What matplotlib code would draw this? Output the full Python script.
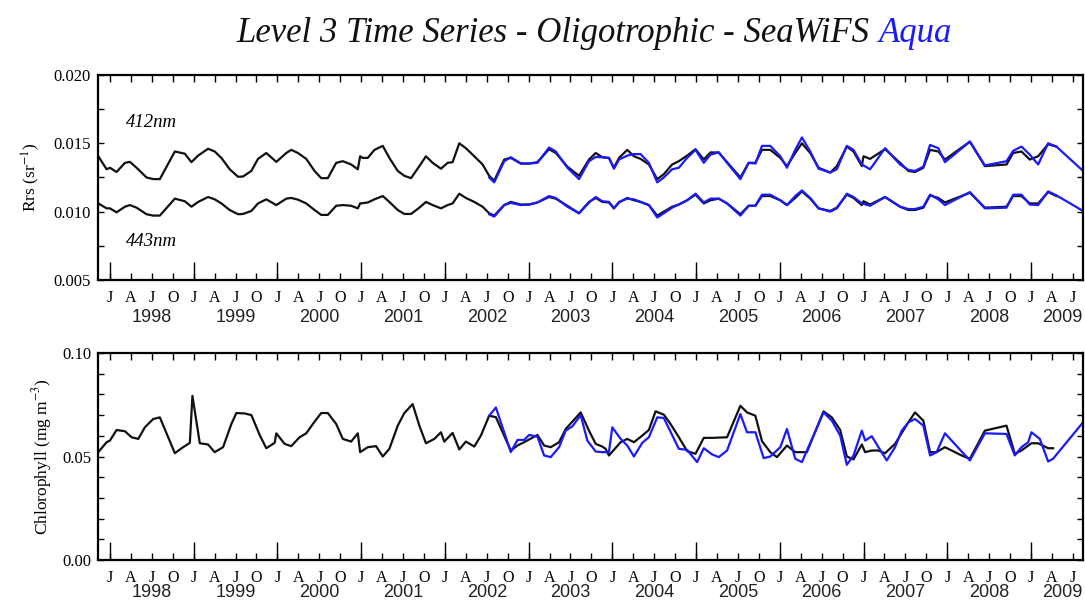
import numpy as np
import matplotlib
matplotlib.use("Agg")
import matplotlib.pyplot as plt
from matplotlib.ticker import FixedLocator, FixedFormatter, MultipleLocator, NullFormatter, FormatStrFormatter

plt.rcParams['font.family'] = ['Liberation Serif', 'DejaVu Serif']
plt.rcParams['mathtext.fontset'] = 'stix'

# ---- data (decimal years) ----
sw_t = [1997.861, 1997.960, 1998.000, 1998.079, 1998.179, 1998.238, 1998.318, 1998.437, 1998.516, 1998.596,
        1998.775, 1998.894, 1998.973, 1999.053, 1999.172, 1999.251, 1999.331, 1999.430, 1999.530, 1999.589,
        1999.689, 1999.768, 1999.867, 1999.987, 2000.106, 2000.165, 2000.245, 2000.344, 2000.443, 2000.523,
        2000.602, 2000.702, 2000.781, 2000.880, 2000.960, 2000.988, 2001.019, 2001.079, 2001.159, 2001.258,
        2001.337, 2001.437, 2001.516, 2001.596, 2001.695, 2001.774, 2001.854, 2001.953, 2002.033, 2002.092,
        2002.172, 2002.251, 2002.351, 2002.450, 2002.529, 2002.589, 2002.708, 2002.787, 2002.907, 2003.006,
        2003.105, 2003.244, 2003.324, 2003.463, 2003.602, 2003.721, 2003.801, 2003.880, 2003.959, 2004.019,
        2004.079, 2004.178, 2004.258, 2004.337, 2004.436, 2004.536, 2004.615, 2004.714, 2004.794, 2004.893,
        2004.993, 2005.092, 2005.171, 2005.271, 2005.370, 2005.529, 2005.628, 2005.708, 2005.787, 2005.886,
        2006.006, 2006.085, 2006.184, 2006.264, 2006.363, 2006.463, 2006.602, 2006.681, 2006.800, 2006.880,
        2006.979, 2006.999, 2007.078, 2007.257, 2007.436, 2007.535, 2007.615, 2007.714, 2007.794, 2007.893,
        2007.972, 2008.270, 2008.449, 2008.707, 2008.787, 2008.886, 2008.985, 2009.085, 2009.204, 2009.303]
sw_412 = [0.01405, 0.01310, 0.01321, 0.01290, 0.01357, 0.01364, 0.01321, 0.01250, 0.01238, 0.01238,
          0.01440, 0.01424, 0.01362, 0.01410, 0.01460, 0.01440, 0.01393, 0.01310, 0.01255, 0.01257,
          0.01298, 0.01386, 0.01429, 0.01364, 0.01429, 0.01452, 0.01429, 0.01386, 0.01298, 0.01245,
          0.01245, 0.01357, 0.01369, 0.01345, 0.01310, 0.01405, 0.01393, 0.01393, 0.01452, 0.01481,
          0.01393, 0.01298, 0.01262, 0.01245, 0.01333, 0.01405, 0.01357, 0.01314, 0.01357, 0.01362,
          0.01500, 0.01464, 0.01405, 0.01345, 0.01262, 0.01226, 0.01381, 0.01393, 0.01352, 0.01352,
          0.01362, 0.01457, 0.01429, 0.01329, 0.01262, 0.01381, 0.01429, 0.01398, 0.01393, 0.01321,
          0.01393, 0.01452, 0.01405, 0.01386, 0.01345, 0.01238, 0.01274, 0.01345, 0.01369, 0.01410,
          0.01457, 0.01381, 0.01433, 0.01433, 0.01362, 0.01250, 0.01357, 0.01357, 0.01452, 0.01452,
          0.01393, 0.01333, 0.01429, 0.01500, 0.01429, 0.01321, 0.01286, 0.01333, 0.01476, 0.01440,
          0.01333, 0.01405, 0.01386, 0.01457, 0.01357, 0.01298, 0.01290, 0.01321, 0.01452, 0.01440,
          0.01381, 0.01512, 0.01333, 0.01345, 0.01429, 0.01440, 0.01381, 0.01405, 0.01493, 0.01476]
sw_443 = [0.01060, 0.01024, 0.01024, 0.00995, 0.01036, 0.01048, 0.01029, 0.00981, 0.00971, 0.00971,
          0.01095, 0.01076, 0.01036, 0.01071, 0.01107, 0.01090, 0.01060, 0.01012, 0.00981, 0.00983,
          0.01005, 0.01060, 0.01090, 0.01048, 0.01095, 0.01100, 0.01088, 0.01060, 0.01012, 0.00976,
          0.00976, 0.01043, 0.01048, 0.01043, 0.01024, 0.01060, 0.01062, 0.01067, 0.01090, 0.01114,
          0.01071, 0.01012, 0.00983, 0.00983, 0.01029, 0.01071, 0.01048, 0.01024, 0.01048, 0.01060,
          0.01131, 0.01100, 0.01071, 0.01036, 0.00988, 0.00971, 0.01048, 0.01071, 0.01052, 0.01052,
          0.01067, 0.01107, 0.01095, 0.01043, 0.00988, 0.01071, 0.01100, 0.01071, 0.01067, 0.01024,
          0.01067, 0.01100, 0.01083, 0.01071, 0.01048, 0.00971, 0.01000, 0.01036, 0.01052, 0.01083,
          0.01124, 0.01060, 0.01083, 0.01095, 0.01060, 0.00981, 0.01043, 0.01043, 0.01114, 0.01114,
          0.01083, 0.01048, 0.01100, 0.01148, 0.01095, 0.01024, 0.01005, 0.01029, 0.01124, 0.01100,
          0.01048, 0.01076, 0.01052, 0.01107, 0.01036, 0.01012, 0.01012, 0.01029, 0.01119, 0.01100,
          0.01067, 0.01138, 0.01029, 0.01036, 0.01114, 0.01114, 0.01060, 0.01060, 0.01143, 0.01114]

aq_t = [2002.529, 2002.589, 2002.708, 2002.787, 2002.907, 2003.006, 2003.105, 2003.244, 2003.324, 2003.463,
        2003.602, 2003.721, 2003.801, 2003.880, 2003.959, 2004.019, 2004.079, 2004.178, 2004.258, 2004.337,
        2004.436, 2004.536, 2004.615, 2004.714, 2004.794, 2004.893, 2004.993, 2005.092, 2005.171, 2005.271,
        2005.370, 2005.529, 2005.628, 2005.708, 2005.787, 2005.886, 2006.006, 2006.085, 2006.184, 2006.264,
        2006.363, 2006.463, 2006.602, 2006.681, 2006.800, 2006.880, 2006.979, 2007.078, 2007.257, 2007.436,
        2007.535, 2007.615, 2007.714, 2007.794, 2007.893, 2007.972, 2008.270, 2008.449, 2008.707, 2008.787,
        2008.886, 2008.985, 2009.085, 2009.204, 2009.303, 2009.621]
aq_412 = [0.01250, 0.01214, 0.01369, 0.01398, 0.01352, 0.01352, 0.01357, 0.01469, 0.01440, 0.01321,
          0.01238, 0.01369, 0.01400, 0.01398, 0.01393, 0.01314, 0.01381, 0.01410, 0.01421, 0.01421,
          0.01357, 0.01214, 0.01250, 0.01310, 0.01321, 0.01393, 0.01452, 0.01357, 0.01417, 0.01433,
          0.01357, 0.01238, 0.01357, 0.01352, 0.01481, 0.01481, 0.01405, 0.01321, 0.01452, 0.01543,
          0.01440, 0.01314, 0.01286, 0.01310, 0.01481, 0.01452, 0.01345, 0.01310, 0.01464, 0.01345,
          0.01305, 0.01298, 0.01329, 0.01488, 0.01464, 0.01362, 0.01512, 0.01338, 0.01369, 0.01445,
          0.01476, 0.01417, 0.01345, 0.01500, 0.01476, 0.01298]
aq_443 = [0.00981, 0.00964, 0.01048, 0.01064, 0.01048, 0.01052, 0.01067, 0.01114, 0.01100, 0.01036,
          0.00988, 0.01067, 0.01107, 0.01076, 0.01071, 0.01024, 0.01071, 0.01095, 0.01090, 0.01071,
          0.01048, 0.00957, 0.00988, 0.01029, 0.01052, 0.01083, 0.01131, 0.01067, 0.01095, 0.01095,
          0.01060, 0.00971, 0.01043, 0.01043, 0.01124, 0.01124, 0.01083, 0.01048, 0.01114, 0.01155,
          0.01100, 0.01024, 0.01000, 0.01024, 0.01131, 0.01107, 0.01060, 0.01043, 0.01107, 0.01036,
          0.01019, 0.01019, 0.01036, 0.01124, 0.01090, 0.01048, 0.01143, 0.01024, 0.01029, 0.01124,
          0.01124, 0.01052, 0.01048, 0.01148, 0.01119, 0.01005]

sw_chl_t = [1997.861, 1997.960, 1998.000, 1998.079, 1998.179, 1998.258, 1998.338, 1998.417, 1998.516, 1998.596,
            1998.775, 1998.874, 1998.954, 1998.985, 1999.073, 1999.172, 1999.251, 1999.351, 1999.450, 1999.510,
            1999.609, 1999.689, 1999.788, 1999.867, 1999.967, 1999.987, 2000.086, 2000.165, 2000.265, 2000.344,
            2000.443, 2000.523, 2000.602, 2000.702, 2000.781, 2000.880, 2000.960, 2000.988, 2001.079, 2001.178,
            2001.258, 2001.337, 2001.437, 2001.516, 2001.615, 2001.695, 2001.774, 2001.874, 2001.953, 2001.993,
            2002.092, 2002.172, 2002.251, 2002.351, 2002.430, 2002.529, 2002.609, 2002.787, 2002.867, 2002.946,
            2003.105, 2003.185, 2003.264, 2003.364, 2003.443, 2003.622, 2003.721, 2003.801, 2003.880, 2003.920,
            2003.959, 2004.099, 2004.178, 2004.258, 2004.357, 2004.436, 2004.516, 2004.615, 2004.695, 2004.794,
            2004.893, 2004.993, 2005.092, 2005.191, 2005.370, 2005.529, 2005.608, 2005.708, 2005.787, 2005.886,
            2005.966, 2006.085, 2006.184, 2006.323, 2006.522, 2006.621, 2006.721, 2006.800, 2006.880, 2006.979,
            2007.019, 2007.098, 2007.178, 2007.257, 2007.376, 2007.535, 2007.615, 2007.714, 2007.794, 2007.873,
            2007.972, 2008.171, 2008.270, 2008.449, 2008.707, 2008.806, 2008.886, 2009.005, 2009.085, 2009.204,
            2009.263]
sw_chl = [0.0521, 0.0569, 0.0577, 0.0628, 0.0622, 0.0593, 0.0585, 0.0641, 0.0681, 0.0689,
          0.0516, 0.0545, 0.0566, 0.0793, 0.0564, 0.0558, 0.0521, 0.0545, 0.0657, 0.0710,
          0.0708, 0.0700, 0.0604, 0.0540, 0.0566, 0.0612, 0.0561, 0.0550, 0.0593, 0.0612,
          0.0668, 0.0710, 0.0710, 0.0657, 0.0585, 0.0572, 0.0612, 0.0521, 0.0545, 0.0550,
          0.0500, 0.0537, 0.0649, 0.0710, 0.0753, 0.0649, 0.0564, 0.0585, 0.0617, 0.0572,
          0.0614, 0.0534, 0.0572, 0.0548, 0.0601, 0.0697, 0.0690, 0.0529, 0.0553, 0.0569,
          0.0604, 0.0553, 0.0545, 0.0569, 0.0633, 0.0713, 0.0625, 0.0561, 0.0548, 0.0537,
          0.0505, 0.0569, 0.0585, 0.0569, 0.0601, 0.0628, 0.0718, 0.0702, 0.0657, 0.0593,
          0.0526, 0.0513, 0.0590, 0.0590, 0.0593, 0.0745, 0.0713, 0.0697, 0.0574, 0.0521,
          0.0497, 0.0553, 0.0521, 0.0521, 0.0718, 0.0689, 0.0628, 0.0500, 0.0486, 0.0558,
          0.0521, 0.0529, 0.0529, 0.0516, 0.0561, 0.0665, 0.0713, 0.0673, 0.0521, 0.0521,
          0.0545, 0.0505, 0.0489, 0.0625, 0.0649, 0.0513, 0.0529, 0.0564, 0.0564, 0.0540,
          0.0540]

aq_chl_t = [2002.529, 2002.609, 2002.787, 2002.867, 2002.946, 2003.006, 2003.105, 2003.185, 2003.264, 2003.364,
            2003.443, 2003.523, 2003.622, 2003.701, 2003.801, 2003.880, 2003.959, 2003.999, 2004.099, 2004.178,
            2004.258, 2004.357, 2004.436, 2004.536, 2004.615, 2004.794, 2004.893, 2005.012, 2005.092, 2005.191,
            2005.271, 2005.370, 2005.529, 2005.608, 2005.708, 2005.807, 2005.886, 2006.006, 2006.085, 2006.184,
            2006.264, 2006.522, 2006.621, 2006.721, 2006.800, 2006.880, 2006.979, 2007.019, 2007.098, 2007.178,
            2007.277, 2007.376, 2007.456, 2007.535, 2007.615, 2007.714, 2007.794, 2007.873, 2007.972, 2008.270,
            2008.449, 2008.707, 2008.806, 2008.886, 2008.966, 2009.005, 2009.105, 2009.204, 2009.263, 2009.621]
aq_chl = [0.0697, 0.0737, 0.0521, 0.0580, 0.0580, 0.0604, 0.0596, 0.0505, 0.0497, 0.0545,
          0.0625, 0.0646, 0.0700, 0.0577, 0.0524, 0.0521, 0.0521, 0.0641, 0.0585, 0.0553,
          0.0500, 0.0566, 0.0593, 0.0689, 0.0686, 0.0537, 0.0532, 0.0473, 0.0540, 0.0510,
          0.0497, 0.0529, 0.0705, 0.0617, 0.0617, 0.0492, 0.0500, 0.0545, 0.0633, 0.0489,
          0.0473, 0.0713, 0.0673, 0.0601, 0.0460, 0.0505, 0.0625, 0.0577, 0.0598, 0.0545,
          0.0481, 0.0545, 0.0625, 0.0665, 0.0681, 0.0649, 0.0505, 0.0521, 0.0612, 0.0481,
          0.0612, 0.0609, 0.0505, 0.0545, 0.0569, 0.0617, 0.0585, 0.0476, 0.0489, 0.0665]

years = list(range(1998, 2010))
quarter_letters = ['J', 'A', 'J', 'O']

black = '#111111'
blue = '#1a1aff'

fig = plt.figure(figsize=(10.85, 6.03), dpi=100)
ax1 = fig.add_axes([0.0903, 0.5357, 0.9078, 0.3400])
ax2 = fig.add_axes([0.0903, 0.0713, 0.9078, 0.3433])

x0, x1 = 1997.857, 2009.62


def style_axis(ax, ylim, ymajor, yminor, yfmt, year_off):
    ax.set_xlim(x0, x1)
    ax.set_ylim(*ylim)
    for s in ax.spines.values():
        s.set_linewidth(1.6)
    # quarterly ticks with month letters, long ticks at each January
    qpos = [y + q / 4 for y in years for q in range(4) if x0 < y + q / 4 < x1]
    qlab = [quarter_letters[int(round((p % 1) * 4))] for p in qpos]
    ax.xaxis.remove_overlapping_locs = False
    ax.xaxis.set_major_locator(FixedLocator([float(y) for y in years]))
    ax.xaxis.set_major_formatter(NullFormatter())
    ax.xaxis.set_minor_locator(FixedLocator(qpos))
    ax.xaxis.set_minor_formatter(FixedFormatter(qlab))
    ax.tick_params(axis='x', which='major', direction='in', length=13, width=1.0,
                   top=False, bottom=True)
    ax.tick_params(axis='x', which='minor', direction='in', length=5, width=1.0,
                   top=True, bottom=True, labelsize=11.5, pad=7)
    ax.yaxis.set_major_locator(MultipleLocator(ymajor))
    ax.yaxis.set_minor_locator(MultipleLocator(yminor))
    ax.yaxis.set_major_formatter(FormatStrFormatter(yfmt))
    ax.tick_params(axis='y', which='both', direction='in', length=4, width=1.0,
                   left=True, right=True, labelsize=12, pad=5)
    for i, y in enumerate(years):
        last = i == len(years) - 1
        ax.annotate(str(y), xy=(x1 if last else y + 0.5, 0), xycoords=('data', 'axes fraction'),
                    xytext=(0, year_off), textcoords='offset points',
                    ha='right' if last else 'center', va='center',
                    fontsize=13, family='Liberation Sans', color='#222222')


# Rrs panel
ax1.plot(sw_t, sw_412, color=black, lw=1.6)
ax1.plot(sw_t, sw_443, color=black, lw=1.6)
ax1.plot(aq_t, aq_412, color=blue, lw=1.6)
ax1.plot(aq_t, aq_443, color=blue, lw=1.6)
style_axis(ax1, (0.005, 0.020), 0.005, 0.0025, '%.3f', -27)
ax1.set_ylabel('Rrs (sr$^{-1}$)', fontsize=12.5, labelpad=8)
ax1.text(0.028, 0.77, '412nm', transform=ax1.transAxes, fontsize=13.5, style='italic',
         va='center', ha='left')
ax1.text(0.028, 0.19, '443nm', transform=ax1.transAxes, fontsize=13.5, style='italic',
         va='center', ha='left')

# Chlorophyll panel
ax2.plot(sw_chl_t, sw_chl, color=black, lw=1.6)
ax2.plot(aq_chl_t, aq_chl, color=blue, lw=1.6)
style_axis(ax2, (0.0, 0.10), 0.05, 0.01, '%.2f', -23.5)
ax2.set_ylabel('Chlorophyll (mg m$^{-3}$)', fontsize=12.5, labelpad=6)

# two-colour title
t1 = fig.text(0.218, 0.945, 'Level 3 Time Series - Oligotrophic - SeaWiFS', fontsize=25,
              style='italic', ha='left', va='center', color=black)
fig.add_artist(matplotlib.text.Annotation('Aqua', xy=(1, 0), xycoords=t1, xytext=(7, 0),
                                          textcoords='offset points', fontsize=25, style='italic',
                                          color=blue, ha='left', va='bottom'))

fig.savefig('out.png', dpi=100)
